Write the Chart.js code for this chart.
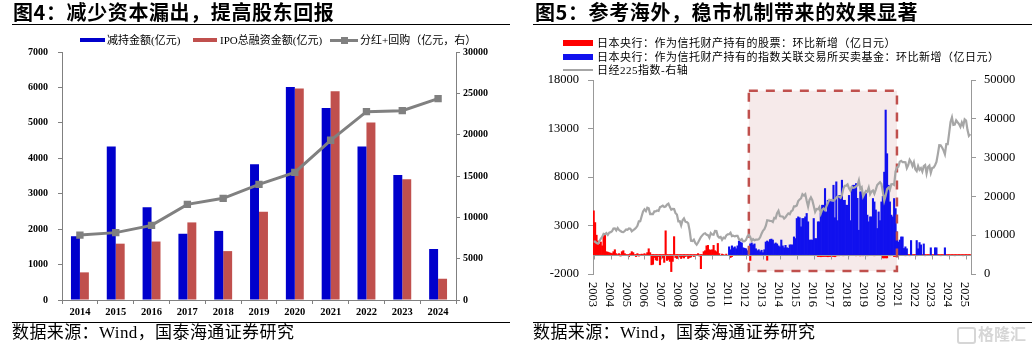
<!DOCTYPE html>
<html><head><meta charset="utf-8">
<script src="https://cdn.jsdelivr.net/npm/chart.js@4.4.1/dist/chart.umd.min.js"></script>
<style>
html,body{margin:0;padding:0;background:#fff;}
#wrap{position:relative;width:1032px;height:351px;overflow:hidden;font-family:"Liberation Serif","Noto Sans CJK SC",serif;}
.abs{position:absolute;white-space:nowrap;}
.title{font-family:"Noto Sans CJK SC",sans-serif;font-weight:bold;font-size:20px;letter-spacing:0.6px;line-height:24px;color:#000;}
.rule{position:absolute;height:0;}
.src{font-size:17px;line-height:20px;letter-spacing:0.4px;color:#000;}
.lg{font-size:11px;line-height:13px;color:#000;}
.lg2{font-size:11px;line-height:13px;letter-spacing:0.5px;color:#000;}
.sw{position:absolute;}
canvas{position:absolute;}
</style></head><body>
<div id="wrap">
<canvas id="c1" width="520" height="351" style="left:0;top:0;width:520px;height:351px"></canvas>
<canvas id="c2" width="512" height="351" style="left:520px;top:0;width:512px;height:351px"></canvas>

<div class="abs title" style="left:13px;top:0px;">图4：减少资本漏出，提高股东回报</div>
<div class="rule" style="left:12px;top:24px;width:498px;border-top:1.5px solid #000;"></div>
<div class="abs title" style="left:535px;top:0px;">图5：参考海外，稳市机制带来的效果显著</div>
<div class="rule" style="left:533px;top:24px;width:499px;border-top:1.5px solid #000;"></div>

<!-- left legend -->
<div class="sw" style="left:80px;top:37.5px;width:25px;height:4.5px;background:#0000CC;"></div>
<div class="abs lg" style="left:107px;top:33.5px;">减持金额(亿元)</div>
<div class="sw" style="left:193px;top:37.5px;width:24px;height:4.5px;background:#C0504D;"></div>
<div class="abs lg" style="left:220px;top:33.5px;">IPO总融资金额(亿元)</div>
<div class="sw" style="left:330px;top:38.5px;width:28px;height:3px;background:#808080;"></div>
<div class="sw" style="left:340.5px;top:36.5px;width:7px;height:7px;background:#808080;"></div>
<div class="abs lg" style="left:360px;top:33.5px;">分红+回购（亿元，右）</div>

<!-- right legend -->
<div class="sw" style="left:563px;top:40px;width:30px;height:6px;background:#FF0000;"></div>
<div class="abs lg2" style="left:597px;top:36.5px;">日本央行：作为信托财产持有的股票：环比新增（亿日元）</div>
<div class="sw" style="left:563px;top:54px;width:30px;height:6px;background:#1111EE;"></div>
<div class="abs lg2" style="left:597px;top:50.5px;">日本央行：作为信托财产持有的指数关联交易所买卖基金：环比新增（亿日元）</div>
<div class="sw" style="left:563px;top:68.5px;width:30px;height:2.5px;background:#A6A6A6;"></div>
<div class="abs lg2" style="left:597px;top:63.5px;">日经225指数-右轴</div>

<div class="rule" style="left:12px;top:322px;width:498px;border-top:1px solid #000;"></div>
<div class="abs src" style="left:12px;top:323px;">数据来源：Wind，国泰海通证券研究</div>
<div class="rule" style="left:533px;top:322px;width:499px;border-top:1px solid #000;"></div>
<div class="abs src" style="left:533px;top:323px;">数据来源：Wind，国泰海通证券研究</div>

<div class="sw" style="left:957px;top:327px;width:15px;height:13px;border:2px solid #d6d6d6;border-radius:3px;"></div>
<div class="abs" style="left:978px;top:323px;font-family:'Noto Sans CJK SC',sans-serif;font-weight:bold;font-size:16px;line-height:20px;color:#d6d6d6;">格隆汇</div>
</div>

<script>
const SERIF = '"Liberation Serif", "Noto Sans CJK SC", serif';

// ---------- Figure 4 data ----------
const YEARS = ['2014','2015','2016','2017','2018','2019','2020','2021','2022','2023','2024'];
const SELL_DOWN = [1800, 4330, 2620, 1870, 1950, 3830, 6010, 5420, 4330, 3530, 1440];
const IPO_RAISED = [780, 1590, 1650, 2190, 1380, 2490, 5970, 5890, 5010, 3410, 600];
const DIV_BUYBACK = [7850, 8150, 9030, 11570, 12300, 13990, 15440, 19320, 22780, 22900, 24360];

// ---------- Figure 5 data (monthly, 2003-01 .. 2025-04) ----------
const START_YEAR = 2003;
const MONTH_COUNT = 268;
const BOJ_STOCKS = [
  4500, 3300, 2000, 1400, 1100, 1300, 900, 1900, 2100, 300, 250, 200,
  150, 100, 300, 500, 100, -100, 100, -150, 300, 400, 100, -100,
  -100, -200, 100, 300, 200, -100, -200, 100, -150, -100, 50, -100,
  100, -100, 200, 600, 200, -1050, -1000, -300, -550, -600, -200, -1050,
  -400, -300, -800, 2450, -600, -500, -700, -1750, -700, 1850, -300, -400,
  -300, -200, -400, -250, -350, -200, -150, -400, -300, -250, -100, -200,
  -100, -50, 100, -150, -1450, -100, 300, 400, 900, 950, 500, 450,
  500, 950, 400, 300, 1150, 100, 0, 50, -50, 0, 50, 0,
  0, -300, -200, 0, 0, 0, 0, 0, 0, 0, 0, 0,
  0, 0, 0, -600, 0, 0, 0, 0, 0, 0, 0, 0,
  0, 0, 0, -580, 0, 0, 0, 0, 0, 0, 0, 0,
  0, 0, 0, 0, 0, 0, 0, 0, 0, 0, 0, 0,
  0, 0, 0, 0, 0, 0, 0, 0, 0, 0, 0, 0,
  -100, -100, -120, -200, -200, -220, -200, -200, -180, -200, -220, -200,
  -200, -180, -200, -220, -150, -100, -120, -100, -100, -120, -100, -100,
  -100, -120, -100, -100, -110, -100, -120, -100, -100, -130, -100, -120,
  -100, -100, -120, -100, -100, -110, -100, -120, -100, -100, -110, -100,
  -100, -340, -340, -340, -340, -100, -120, -100, -100, -200, -200, -100,
  -120, -100, -100, -110, -100, -120, -100, -100, -120, -100, -100, -110,
  -100, -120, -100, -100, -110, -100, -100, -120, -100, -110, -100, -100,
  -120, -100, -100, -110, -100, -100, -120, -100, -100, -110, -100, -120,
  -100, -100, -110, -100, -120, -100, -100, -110, -100, -100, -120, -100,
  -100, -110, -100, -100
];
const BOJ_ETF = [
  0, 0, 0, 0, 0, 0, 0, 0, 0, 0, 0, 0,
  0, 0, 0, 0, 0, 0, 0, 0, 0, 0, 0, 0,
  0, 0, 0, 0, 0, 0, 0, 0, 0, 0, 0, 0,
  0, 0, 0, 0, 0, 0, 0, 0, 0, 0, 0, 0,
  0, 0, 0, 0, 0, 0, 0, 0, 0, 0, 0, 0,
  0, 0, 0, 0, 0, 0, 0, 0, 0, 0, 0, 0,
  0, 0, 0, 0, 0, 0, 0, 0, 0, 0, 0, 0,
  0, 0, 0, 0, 0, 0, 0, 0, 0, 0, 0, 0,
  800, 500, 900, 700, 800, 600, 900, 1400, 1300, 1200, 700, 650,
  600, 400, 0, 1100, 1200, 1000, 1100, 600, 400, 500, 300, 450,
  200, 500, 1300, 1400, 1300, 1550, 1600, 1500, 1100, 1200, 1100, 900,
  800, 1500, 900, 700, 950, 700, 650, 1000, 1000, 1000, 1820, 1650,
  3720, 3890, 3800, 2860, 3720, 3720, 3890, 4240, 3380, 1500, 1500, 1500,
  3720, 1650, 1650, 3380, 3380, 4240, 5090, 5090, 6810, 4400, 5600, 5600,
  5600, 5400, 7150, 3800, 7500, 3500, 6100, 6100, 7670, 5600, 5600, 5090,
  5090, 6100, 3500, 6980, 7150, 7150, 7320, 5800, 2510, 6470, 6470, 6290,
  6290, 6290, 4070, 3380, 3890, 3890, 5780, 5430, 4600, 2690, 4400, 3500,
  5430, 6000, 8500, 14900, 10400, 7150, 5430, 4070, 3890, 5780, 4740, 2340,
  1300, 1500, 1820, 1820, 630, 800, 600, 0, 0, 1450, 0, 0,
  0, 1450, 600, 1240, 1000, 0, 1100, 0, 0, 0, 0, 700,
  0, 0, 700, 700, 0, 0, 0, 0, 0, 700, 0, 0,
  0, 0, 0, 0, 0, 0, 0, 0, 0, 0, 0, 0,
  0, 0, 0, 0
];
const NIKKEI = [
  8340, 8363, 7973, 7831, 8425, 9083, 9563, 10344, 10219, 10560, 10100, 10677,
  10784, 11042, 11715, 11761, 11237, 11859, 11326, 11082, 10824, 10771, 11069, 11489,
  11388, 11741, 11669, 11009, 11277, 11584, 11900, 12414, 13574, 13607, 14872, 16111,
  16650, 16205, 17060, 16906, 15467, 15505, 15457, 16141, 16128, 16399, 16274, 17226,
  17383, 17604, 17288, 17400, 17876, 18138, 17249, 16569, 16786, 16738, 15681, 15308,
  13592, 13603, 12526, 13850, 14339, 13481, 13377, 13073, 11260, 8577, 8512, 8860,
  7994, 7568, 8110, 8828, 9523, 9958, 10357, 10493, 10133, 10035, 9346, 10546,
  10198, 10126, 11090, 11057, 9768, 9383, 9537, 8824, 9369, 9202, 9937, 10229,
  10237, 10624, 9755, 9850, 9694, 9816, 9833, 8955, 8700, 8988, 8434, 8455,
  8803, 9723, 10084, 9521, 8542, 9007, 8695, 8840, 8870, 8928, 9446, 10395,
  11139, 11559, 12398, 13861, 13775, 13677, 13668, 13389, 14456, 14327, 15662, 16291,
  14915, 14841, 14828, 14304, 14632, 15162, 15621, 15425, 16174, 16414, 17460, 17451,
  17674, 18798, 19207, 19520, 20563, 20236, 20585, 18890, 17388, 19083, 19747, 19034,
  17518, 16027, 16759, 16666, 17235, 15576, 16569, 16887, 16450, 17425, 18308, 19114,
  19041, 19119, 18909, 19197, 19651, 20033, 19925, 19646, 20356, 22012, 22725, 22765,
  23098, 22068, 21454, 22468, 22202, 22305, 22554, 22865, 24120, 21920, 22351, 20015,
  20773, 21385, 21206, 22259, 20601, 21276, 21522, 20704, 21756, 22927, 23294, 23657,
  23205, 21143, 18917, 20194, 21878, 22288, 21710, 23140, 23185, 22977, 26434, 27444,
  27663, 28966, 29179, 28813, 28860, 28792, 27284, 28090, 29453, 28893, 27822, 28792,
  27002, 26527, 27821, 26848, 27280, 26393, 27802, 28092, 25937, 27587, 27969, 26095,
  27327, 27446, 28041, 28856, 30888, 33189, 33172, 32619, 31858, 30859, 33487, 33464,
  36287, 39166, 40369, 38406, 38488, 39583, 39102, 38648, 37920, 39081, 38208, 39895,
  39572, 37156, 35618, 36045
];
const LEFT2_TICKS = [-2000, 3000, 8000, 13000, 18000];
const RIGHT2_TICKS = [0, 10000, 20000, 30000, 40000, 50000];
const BOX_FROM = '2012-03';
const BOX_TO = '2020-12';
const BOX_TOP = 16900;
const BOX_BOTTOM = -1700;

const MONTHS = [];
for (let i = 0; i < MONTH_COUNT; i++) {
  const y = START_YEAR + Math.floor(i / 12);
  const m = (i % 12) + 1;
  MONTHS.push(y + '-' + (m < 10 ? '0' + m : m));
}
const plainNum = v => String(v);
const inflateNonZero = c => (c.raw ? 0.35 : 0);

// ---------- Figure 4 chart ----------
const tickFont1 = {family: SERIF, size: 10, weight: 'bold'};
new Chart(document.getElementById('c1'), {
  type: 'bar',
  data: {
    labels: YEARS,
    datasets: [
      {type: 'line', label: '分红+回购（亿元，右）', data: DIV_BUYBACK, yAxisID: 'y1',
       borderColor: '#808080', backgroundColor: '#808080', borderWidth: 3,
       pointStyle: 'rect', pointRadius: 5.2, pointBorderWidth: 0,
       pointBackgroundColor: '#808080', tension: 0, order: 0},
      {label: '减持金额(亿元)', data: SELL_DOWN, backgroundColor: '#0000CC', yAxisID: 'y',
       categoryPercentage: 0.5, barPercentage: 1, order: 1},
      {label: 'IPO总融资金额(亿元)', data: IPO_RAISED, backgroundColor: '#C0504D', yAxisID: 'y',
       categoryPercentage: 0.5, barPercentage: 1, order: 2}
    ]
  },
  options: {
    responsive: false, animation: false,
    layout: {padding: {top: 52, left: 0, right: 0, bottom: 0}},
    plugins: {legend: {display: false}, tooltip: {enabled: false}},
    scales: {
      x: {
        grid: {display: true, drawOnChartArea: false, drawTicks: true, tickLength: 4, color: '#808080', offset: true},
        border: {display: true, color: '#808080'},
        ticks: {font: {family: SERIF, size: 10.5, weight: 'bold'}, color: '#000', padding: 2, maxRotation: 0, autoSkip: false},
        afterFit(s) { s.height = 51; }
      },
      y: {
        position: 'left', min: 0, max: 7000,
        ticks: {stepSize: 1000, font: tickFont1, color: '#000', padding: 10, callback: plainNum},
        grid: {drawOnChartArea: false, tickLength: 4, color: '#808080'},
        border: {display: true, color: '#808080'},
        afterFit(s) { s.width = 62; }
      },
      y1: {
        position: 'right', min: 0, max: 30000,
        ticks: {stepSize: 5000, font: tickFont1, color: '#000', padding: 3, callback: plainNum},
        grid: {drawOnChartArea: false, tickLength: 4, color: '#808080'},
        border: {display: true, color: '#808080'},
        afterFit(s) { s.width = 64; }
      }
    }
  }
});

// ---------- Figure 5 chart ----------
const boxPlugin = {
  id: 'boxPlugin',
  beforeDatasetsDraw(chart) {
    const {ctx} = chart;
    const x = chart.scales.x, y = chart.scales.y;
    const x0 = x.getPixelForValue(MONTHS.indexOf(BOX_FROM));
    const x1 = x.getPixelForValue(MONTHS.indexOf(BOX_TO));
    const y0 = y.getPixelForValue(BOX_TOP), y1 = y.getPixelForValue(BOX_BOTTOM);
    ctx.save();
    ctx.fillStyle = '#F6EAEA';
    ctx.fillRect(x0, y0, x1 - x0, y1 - y0);
    ctx.restore();
  },
  afterDatasetDraw(chart, args) {
    if (args.index !== 1) return;
    const {ctx, chartArea} = chart;
    const x = chart.scales.x, y = chart.scales.y;
    const zy = Math.round(y.getPixelForValue(0)) + 0.5;
    ctx.save();
    ctx.strokeStyle = '#9a9a9a';
    ctx.lineWidth = 1;
    ctx.beginPath();
    ctx.moveTo(chartArea.left, zy);
    ctx.lineTo(chartArea.right, zy);
    for (let i = 0; i < MONTHS.length; i++) {
      if (MONTHS[i].slice(5) !== '01') continue;
      const px = Math.round(x.getPixelForValue(i)) + 0.5;
      ctx.moveTo(px, zy);
      ctx.lineTo(px, zy + 4);
    }
    ctx.stroke();
    // dashed border
    const x0 = x.getPixelForValue(MONTHS.indexOf(BOX_FROM));
    const x1 = x.getPixelForValue(MONTHS.indexOf(BOX_TO));
    const y0 = y.getPixelForValue(BOX_TOP), y1 = y.getPixelForValue(BOX_BOTTOM);
    ctx.strokeStyle = '#C0504D';
    ctx.lineWidth = 2.5;
    ctx.setLineDash([9, 8]);
    ctx.strokeRect(x0, y0, x1 - x0, y1 - y0);
    ctx.restore();
  },
  afterDraw(chart) {
    const {ctx} = chart;
    const x = chart.scales.x;
    ctx.save();
    ctx.font = '12.5px ' + SERIF;
    ctx.fillStyle = '#000';
    ctx.textAlign = 'left';
    ctx.textBaseline = 'middle';
    for (let i = 0; i < MONTHS.length; i++) {
      if (MONTHS[i].slice(5) !== '01') continue;
      const px = x.getPixelForValue(i) - 1.5;
      ctx.save();
      ctx.translate(px, 282);
      ctx.rotate(Math.PI / 2);
      ctx.fillText(MONTHS[i].slice(0, 4), 0, 0);
      ctx.restore();
    }
    ctx.restore();
  }
};

const tickFont2 = {family: SERIF, size: 12.5};
new Chart(document.getElementById('c2'), {
  type: 'bar',
  data: {
    labels: MONTHS,
    datasets: [
      {label: '日本央行：作为信托财产持有的股票：环比新增（亿日元）', data: BOJ_STOCKS,
       backgroundColor: '#FF0000', yAxisID: 'y', barPercentage: 1, categoryPercentage: 1,
       grouped: false, borderWidth: 0, inflateAmount: inflateNonZero, order: 2},
      {label: '日本央行：作为信托财产持有的指数关联交易所买卖基金：环比新增（亿日元）', data: BOJ_ETF,
       backgroundColor: '#1111EE', yAxisID: 'y', barPercentage: 1, categoryPercentage: 1,
       grouped: false, borderWidth: 0, inflateAmount: inflateNonZero, order: 1},
      {type: 'line', label: '日经225指数-右轴', data: NIKKEI, yAxisID: 'y1',
       borderColor: '#A6A6A6', borderWidth: 2.2, pointRadius: 0, tension: 0, order: 0}
    ]
  },
  options: {
    responsive: false, animation: false,
    layout: {padding: {top: 80, left: 0, right: 0, bottom: 0}},
    plugins: {legend: {display: false}, tooltip: {enabled: false}},
    scales: {
      x: {
        ticks: {display: false},
        grid: {display: false},
        border: {display: false},
        afterFit(s) { s.height = 77; }
      },
      y: {
        position: 'left', min: -2000, max: 18000,
        afterBuildTicks(s) { s.ticks = LEFT2_TICKS.map(v => ({value: v})); },
        ticks: {font: tickFont2, color: '#000', padding: 9, callback: plainNum},
        grid: {drawOnChartArea: false, tickLength: 5, color: '#999'},
        border: {display: true, color: '#999'},
        afterFit(s) { s.width = 73; }
      },
      y1: {
        position: 'right', min: 0, max: 50000,
        afterBuildTicks(s) { s.ticks = RIGHT2_TICKS.map(v => ({value: v})); },
        ticks: {font: tickFont2, color: '#000', padding: 8, callback: plainNum},
        grid: {drawOnChartArea: false, tickLength: 5, color: '#999'},
        border: {display: true, color: '#999'},
        afterFit(s) { s.width = 61; }
      }
    }
  },
  plugins: [boxPlugin]
});
</script>
</body></html>
